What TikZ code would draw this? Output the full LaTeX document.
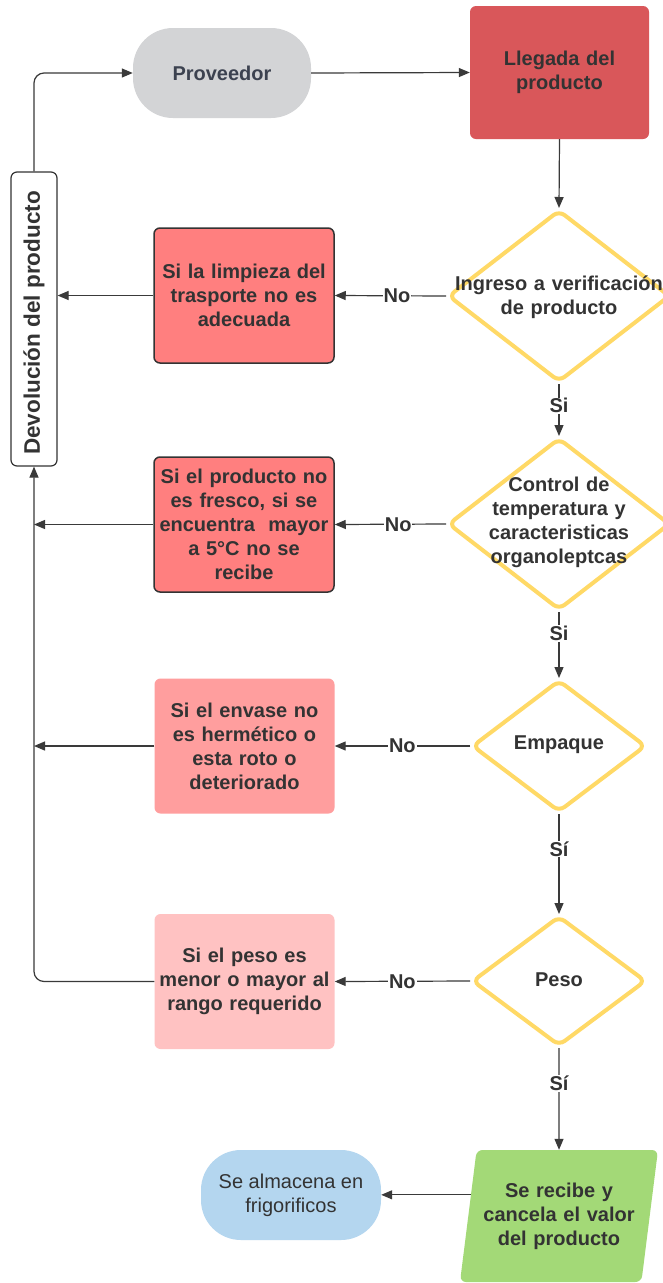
\documentclass[tikz,border=0pt]{standalone}
\usepackage{fontspec}
\setmainfont{Liberation Sans}
\usetikzlibrary{arrows.meta,shapes.geometric,calc}
\definecolor{txt}{HTML}{333333}
\definecolor{linec}{HTML}{3A3A3A}
\definecolor{provc}{HTML}{D3D4D6}
\definecolor{provt}{HTML}{3C4250}
\definecolor{llegc}{HTML}{D9575A}
\definecolor{redA}{HTML}{FF7F7F}
\definecolor{redB}{HTML}{FF9E9E}
\definecolor{redC}{HTML}{FFC2C2}
\definecolor{dyel}{HTML}{FFD966}
\definecolor{grn}{HTML}{A3D977}
\definecolor{blu}{HTML}{B4D6EF}
\begin{document}
\begin{tikzpicture}[x=1pt,y=-1pt,
  fnt/.style={font=\bfseries\fontsize{20}{24}\selectfont, text=txt},
  arr/.style={draw=linec, line width=1.2pt, -{Triangle[length=11pt,width=9pt]}},
  ln/.style={draw=linec, line width=1.2pt},
  lbl/.style={fnt, fill=white, inner sep=1pt},
  stad/.style={rectangle, rounded corners=40pt, minimum width=178pt, minimum height=90pt, align=center, inner sep=0pt},
  cbox/.style={fnt, rectangle, rounded corners=6pt, minimum width=180pt, minimum height=135pt, text width=176pt, align=center, inner sep=0pt},
  bordered/.style={draw=txt, line width=1.5pt},
  dia/.style={diamond, draw=dyel, line width=4pt, rounded corners=7pt, fill=white, inner sep=0pt},
  dtext/.style={fnt, text width=215pt, align=center, inner sep=0pt},
]
\useasboundingbox (0,0) rectangle (662,1283);
\fill[white] (0,0) rectangle (662,1283);

% nodes
\node[stad, fill=provc, font=\bfseries\fontsize{20}{24}\selectfont, text=provt] (prov) at (222,73) {Proveedor};
\node[cbox, fill=llegc, minimum width=179pt, minimum height=133pt] (lleg) at (559.5,72.5) {Llegada del\\producto};
\node[draw=txt, line width=1.2pt, fill=white, rounded corners=6pt, minimum width=46pt, minimum height=294pt, inner sep=0pt] (dev) at (34,319) {};
\node[rotate=90, font=\bfseries\fontsize{22.5}{26}\selectfont, text=txt] (devt) at (34,323) {Devolución del producto};

\node[dia, minimum width=222pt, minimum height=172pt] (d1) at (559,296) {};
\node[dtext] (d1t) at (559,297) {Ingreso a verificación\\de producto};
\node[dia, minimum width=222pt, minimum height=172pt] (d2) at (559,524) {};
\node[dtext] (d2t) at (559,522) {Control de\\temperatura y\\caracteristicas\\organoleptcas};
\node[dia, minimum width=174pt, minimum height=132pt] (d3) at (559,746) {};
\node[dtext] (d3t) at (559,745) {Empaque};
\node[dia, minimum width=174pt, minimum height=130pt] (d4) at (559,981) {};
\node[dtext] (d4t) at (559,980) {Peso};

\node[cbox, bordered, fill=redA] (b1) at (244,295.5) {Si la limpieza del\\trasporte no es\\adecuada};
\node[cbox, bordered, fill=redA] (b2) at (244,524.5) {Si el producto no\\es fresco, si se\\encuentra\ \ mayor\\a 5°C no se\\recibe};
\node[cbox, fill=redB] (b3) at (244.5,746) {Si el envase no\\es hermético o\\esta roto o\\deteriorado};
\node[cbox, fill=redC] (b4) at (244.5,981.5) {Si el peso es\\menor o mayor al\\rango requerido};

\node[fnt, trapezium, trapezium left angle=76, trapezium right angle=104, trapezium stretches body, fill=grn, rounded corners=6pt, minimum width=198pt, minimum height=132pt, text width=160pt, align=center, inner sep=0pt] (pg) at (559,1216) {Se recibe y\\cancela el valor\\del producto};
\node[stad, fill=blu, minimum width=180pt, font=\fontsize{20}{24}\selectfont, text=txt] (alm) at (291,1195) {Se almacena en\\frigorificos};

% connectors
\draw[arr, rounded corners=10pt] (dev.north) |- (prov.west);
\draw[arr] (prov.east) -- (lleg.west);
\draw[arr] (lleg.south) -- (d1.north);

\draw[arr] (d1.west) -- node[lbl, pos=0.44] {No} (b1.east);
\draw[arr] (b1.west) -- (b1.west -| dev.east);
\draw[arr] (d1.south) -- node[lbl, pos=0.42] {Si} (d2.north);

\draw[arr] (d2.west) -- node[lbl, pos=0.43] {No} (b2.east);
\draw[arr] (b2.west) -- (b2.west -| dev.south);
\draw[arr] (d2.south) -- node[lbl, pos=0.33] {Si} (d3.north);

\draw[arr] (d3.west) -- node[lbl, pos=0.5] {No} (b3.east);
\draw[arr] (b3.west) -- (b3.west -| dev.south);
\draw[arr] (d3.south) -- node[lbl, pos=0.35] {Sí} (d4.north);

\draw[arr] (d4.west) -- node[lbl, pos=0.5] {No} (b4.east);
\draw[arr, rounded corners=10pt] (b4.west) -| (dev.south);
\draw[arr] (d4.south) -- node[lbl, pos=0.35] {Sí} (pg.north);

\coordinate (pgl) at ($(pg.top left corner)!0.34!(pg.bottom left corner)$);
\draw[arr] (pgl) -- (pgl -| alm.east);
\end{tikzpicture}
\end{document}
